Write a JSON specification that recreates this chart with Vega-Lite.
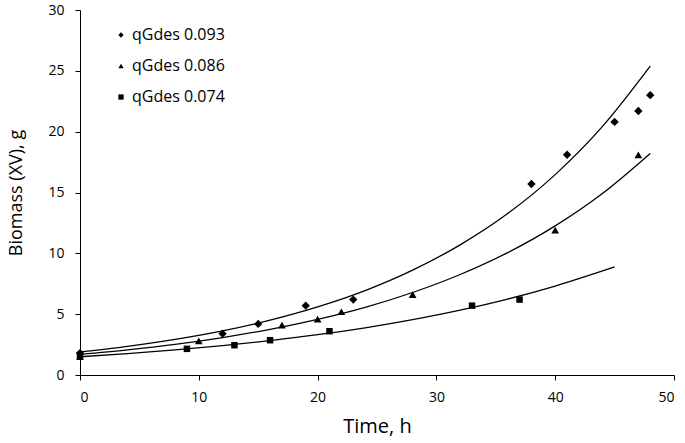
{
  "$schema": "https://vega.github.io/schema/vega-lite/v6.json",
  "width": 594,
  "height": 365,
  "autosize": {"type": "none"},
  "padding": {"left": 80, "top": 10, "right": 11, "bottom": 68},
  "background": "white",
  "config": {
    "view": {"stroke": null},
    "font": "Open Sans",
    "axis": {"grid": false, "domainColor": "black", "tickColor": "black", "labelColor": "black", "titleColor": "black", "labelFontSize": 14, "titleFontWeight": "normal", "tickSize": 5, "labelFont": "Open Sans", "titleFont": "Open Sans"}
  },
  "datasets": {
    "pts": [
      {"t": 0, "b": 1.8, "s": "qGdes 0.093"},
      {"t": 12, "b": 3.4, "s": "qGdes 0.093"},
      {"t": 15, "b": 4.2, "s": "qGdes 0.093"},
      {"t": 19, "b": 5.7, "s": "qGdes 0.093"},
      {"t": 23, "b": 6.2, "s": "qGdes 0.093"},
      {"t": 38, "b": 15.7, "s": "qGdes 0.093"},
      {"t": 41, "b": 18.1, "s": "qGdes 0.093"},
      {"t": 45, "b": 20.8, "s": "qGdes 0.093"},
      {"t": 47, "b": 21.7, "s": "qGdes 0.093"},
      {"t": 48, "b": 23.0, "s": "qGdes 0.093"},
      {"t": 0, "b": 1.5, "s": "qGdes 0.086"},
      {"t": 10, "b": 2.8, "s": "qGdes 0.086"},
      {"t": 17, "b": 4.1, "s": "qGdes 0.086"},
      {"t": 20, "b": 4.6, "s": "qGdes 0.086"},
      {"t": 22, "b": 5.2, "s": "qGdes 0.086"},
      {"t": 28, "b": 6.6, "s": "qGdes 0.086"},
      {"t": 40, "b": 11.9, "s": "qGdes 0.086"},
      {"t": 47, "b": 18.1, "s": "qGdes 0.086"},
      {"t": 0, "b": 1.6, "s": "qGdes 0.074"},
      {"t": 9, "b": 2.15, "s": "qGdes 0.074"},
      {"t": 13, "b": 2.45, "s": "qGdes 0.074"},
      {"t": 16, "b": 2.86, "s": "qGdes 0.074"},
      {"t": 21, "b": 3.6, "s": "qGdes 0.074"},
      {"t": 33, "b": 5.7, "s": "qGdes 0.074"},
      {"t": 37, "b": 6.2, "s": "qGdes 0.074"}
    ],
    "fit": [
      {"t": 0, "b": 1.90, "s": "qGdes 0.093"},
      {"t": 4, "b": 2.36, "s": "qGdes 0.093"},
      {"t": 8, "b": 2.93, "s": "qGdes 0.093"},
      {"t": 12, "b": 3.63, "s": "qGdes 0.093"},
      {"t": 16, "b": 4.51, "s": "qGdes 0.093"},
      {"t": 20, "b": 5.60, "s": "qGdes 0.093"},
      {"t": 24, "b": 6.94, "s": "qGdes 0.093"},
      {"t": 28, "b": 8.62, "s": "qGdes 0.093"},
      {"t": 32, "b": 10.70, "s": "qGdes 0.093"},
      {"t": 36, "b": 13.27, "s": "qGdes 0.093"},
      {"t": 40, "b": 16.47, "s": "qGdes 0.093"},
      {"t": 44, "b": 20.45, "s": "qGdes 0.093"},
      {"t": 48, "b": 25.38, "s": "qGdes 0.093"},
      {"t": 0, "b": 1.70, "s": "qGdes 0.086"},
      {"t": 4, "b": 2.07, "s": "qGdes 0.086"},
      {"t": 8, "b": 2.52, "s": "qGdes 0.086"},
      {"t": 12, "b": 3.08, "s": "qGdes 0.086"},
      {"t": 16, "b": 3.75, "s": "qGdes 0.086"},
      {"t": 20, "b": 4.57, "s": "qGdes 0.086"},
      {"t": 24, "b": 5.56, "s": "qGdes 0.086"},
      {"t": 28, "b": 6.78, "s": "qGdes 0.086"},
      {"t": 32, "b": 8.26, "s": "qGdes 0.086"},
      {"t": 36, "b": 10.06, "s": "qGdes 0.086"},
      {"t": 40, "b": 12.26, "s": "qGdes 0.086"},
      {"t": 44, "b": 14.94, "s": "qGdes 0.086"},
      {"t": 48, "b": 18.21, "s": "qGdes 0.086"},
      {"t": 0, "b": 1.50, "s": "qGdes 0.074"},
      {"t": 4, "b": 1.76, "s": "qGdes 0.074"},
      {"t": 8, "b": 2.06, "s": "qGdes 0.074"},
      {"t": 12, "b": 2.41, "s": "qGdes 0.074"},
      {"t": 16, "b": 2.83, "s": "qGdes 0.074"},
      {"t": 20, "b": 3.31, "s": "qGdes 0.074"},
      {"t": 24, "b": 3.88, "s": "qGdes 0.074"},
      {"t": 28, "b": 4.55, "s": "qGdes 0.074"},
      {"t": 32, "b": 5.33, "s": "qGdes 0.074"},
      {"t": 36, "b": 6.24, "s": "qGdes 0.074"},
      {"t": 40, "b": 7.31, "s": "qGdes 0.074"},
      {"t": 45, "b": 8.88, "s": "qGdes 0.074"}
    ]
  },
  "layer": [
    {
      "data": {"name": "fit"},
      "mark": {"type": "line", "color": "black", "strokeWidth": 1.3, "interpolate": "monotone"},
      "encoding": {
        "x": {"field": "t", "type": "quantitative", "scale": {"domain": [0, 50]}, "axis": {"title": "Time, h", "values": [0, 10, 20, 30, 40, 50], "titleFontSize": 20, "titlePadding": 12, "labelPadding": 10}},
        "y": {"field": "b", "type": "quantitative", "scale": {"domain": [0, 30]}, "axis": {"title": "Biomass (XV), g", "values": [0, 5, 10, 15, 20, 25, 30], "titleFontSize": 18, "titlePadding": 22, "labelPadding": 11}},
        "detail": {"field": "s"}
      }
    },
    {
      "data": {"name": "pts"},
      "transform": [{"filter": "datum.s === 'qGdes 0.093'"}],
      "mark": {"type": "point", "filled": true, "color": "black", "opacity": 1, "size": 70},
      "encoding": {
        "x": {"field": "t", "type": "quantitative"},
        "y": {"field": "b", "type": "quantitative"},
        "shape": {
          "field": "s", "type": "nominal",
          "scale": {"domain": ["qGdes 0.093", "qGdes 0.086", "qGdes 0.074"], "range": ["diamond", "triangle-up", "square"]},
          "legend": {"title": null, "orient": "none", "legendX": 33, "legendY": 17, "labelFontSize": 16, "labelColor": "black", "labelFont": "Open Sans", "symbolSize": 28, "symbolFillColor": "black", "symbolStrokeColor": "black", "rowPadding": 15, "labelOffset": 3}
        }
      }
    },
    {
      "data": {"name": "pts"},
      "transform": [{"filter": "datum.s === 'qGdes 0.086'"}],
      "mark": {"type": "point", "filled": true, "color": "black", "opacity": 1, "size": 60},
      "encoding": {
        "x": {"field": "t", "type": "quantitative"},
        "y": {"field": "b", "type": "quantitative"},
        "shape": {"field": "s", "type": "nominal"}
      }
    },
    {
      "data": {"name": "pts"},
      "transform": [{"filter": "datum.s === 'qGdes 0.074'"}],
      "mark": {"type": "point", "filled": true, "color": "black", "opacity": 1, "size": 42},
      "encoding": {
        "x": {"field": "t", "type": "quantitative"},
        "y": {"field": "b", "type": "quantitative"},
        "shape": {"field": "s", "type": "nominal"}
      }
    }
  ]
}
